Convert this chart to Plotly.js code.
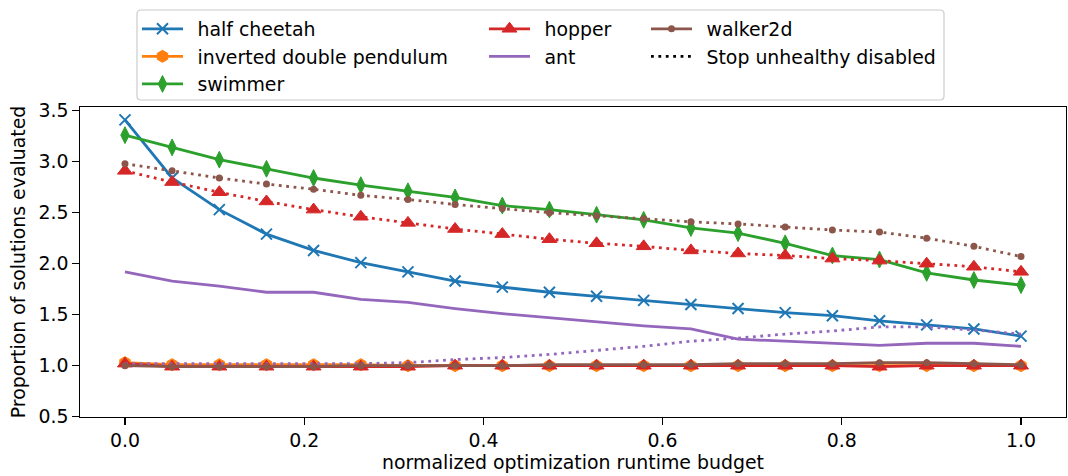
<!DOCTYPE html>
<html>
<head>
<meta charset="utf-8">
<script src="https://cdn.plot.ly/plotly-3.0.1.min.js"></script>
<style>html,body{margin:0;padding:0;background:#fff;}#chart{width:1068px;height:476px;}</style>
</head>
<body>
<div id="chart"></div>
<script>
// normalized runtime budget (20 evaluation points)
const budget = [0, 0.0526, 0.1053, 0.1579, 0.2105, 0.2632, 0.3158, 0.3684, 0.4211, 0.4737,
                0.5263, 0.5789, 0.6316, 0.6842, 0.7368, 0.7895, 0.8421, 0.8947, 0.9474, 1.0];

const halfCheetah = [3.41, 2.84, 2.53, 2.29, 2.13, 2.01, 1.92, 1.83, 1.77, 1.72,
                     1.68, 1.64, 1.60, 1.56, 1.52, 1.49, 1.44, 1.40, 1.36, 1.29];
const invDoublePendulum = [1.03, 1.01, 1.01, 1.01, 1.01, 1.01, 1.0, 1.0, 1.0, 1.0,
                           1.0, 1.0, 1.0, 1.0, 1.0, 1.0, 1.0, 1.0, 1.0, 1.0];
const swimmer = [3.26, 3.14, 3.02, 2.93, 2.84, 2.77, 2.71, 2.65, 2.57, 2.53,
                 2.48, 2.43, 2.35, 2.30, 2.20, 2.08, 2.04, 1.91, 1.84, 1.79];
const hopper = [1.02, 0.99, 0.99, 0.99, 0.99, 0.99, 0.99, 1.0, 1.0, 1.0,
                1.0, 1.0, 1.0, 1.0, 1.0, 1.0, 0.99, 1.0, 1.0, 1.0];
const hopperNoStop = [2.91, 2.80, 2.70, 2.61, 2.53, 2.46, 2.40, 2.34, 2.29, 2.24,
                      2.20, 2.17, 2.13, 2.10, 2.08, 2.05, 2.03, 2.00, 1.97, 1.92];
const ant = [1.92, 1.83, 1.78, 1.72, 1.72, 1.65, 1.62, 1.56, 1.51, 1.47,
             1.43, 1.39, 1.36, 1.26, 1.24, 1.22, 1.20, 1.22, 1.22, 1.19];
const antNoStop = [1.02, 1.02, 1.02, 1.02, 1.02, 1.02, 1.03, 1.06, 1.08, 1.11,
                   1.15, 1.19, 1.24, 1.27, 1.31, 1.34, 1.38, 1.38, 1.35, 1.31];
const walker2d = [1.0, 0.99, 0.99, 0.99, 0.99, 1.0, 1.0, 1.0, 1.0, 1.01,
                  1.01, 1.01, 1.01, 1.02, 1.02, 1.02, 1.03, 1.03, 1.02, 1.01];
const walker2dNoStop = [2.98, 2.91, 2.84, 2.78, 2.73, 2.67, 2.63, 2.58, 2.54, 2.50,
                        2.47, 2.44, 2.41, 2.39, 2.36, 2.33, 2.31, 2.25, 2.17, 2.07];

const C = {blue:'#1f77b4', orange:'#ff7f0e', green:'#2ca02c', red:'#d62728', purple:'#9467bd', brown:'#8c564b'};
const LW = 2.8;
const DOT = '2.8px,4.6px';
const GAP = '\u2002'; // extra gap between legend symbol and label

function tr(name, y, color, marker, opts) {
  const t = {
    type:'scatter', mode: marker ? 'lines+markers' : 'lines',
    x: budget, y: y, name: GAP + name,
    line:{color: color, width: LW},
    hoverinfo:'skip'
  };
  if (marker) t.marker = marker;
  return Object.assign(t, opts || {});
}

const data = [
  tr('half cheetah', halfCheetah, C.blue,
     {symbol:'x-thin', size:11, color:C.blue, line:{color:C.blue, width:2}}, {legend:'legend', legendrank:1}),
  tr('inverted double pendulum', invDoublePendulum, C.orange,
     {symbol:'hexagon', size:12, color:C.orange, line:{color:C.orange, width:1}}, {legend:'legend', legendrank:2}),
  tr('swimmer', swimmer, C.green,
     {symbol:'diamond-tall', size:12, color:C.green, line:{color:C.green, width:1}}, {legend:'legend', legendrank:3}),
  tr('hopper', hopper, C.red,
     {symbol:'triangle-up', size:13, color:C.red, line:{color:C.red, width:1}}, {legend:'legend2', legendrank:1}),
  tr('hopper (no stop)', hopperNoStop, C.red,
     {symbol:'triangle-up', size:13, color:C.red, line:{color:C.red, width:1}}, {showlegend:false, line:{color:C.red, width:LW, dash:DOT}}),
  tr('ant', ant, C.purple, null, {legend:'legend2', legendrank:2}),
  tr('ant (no stop)', antNoStop, C.purple, null, {showlegend:false, line:{color:C.purple, width:LW, dash:DOT}}),
  tr('walker2d', walker2d, C.brown,
     {symbol:'circle', size:7, color:C.brown}, {legend:'legend3', legendrank:1}),
  tr('walker2d (no stop)', walker2dNoStop, C.brown,
     {symbol:'circle', size:7, color:C.brown}, {showlegend:false, line:{color:C.brown, width:LW, dash:DOT}}),
  {type:'scatter', mode:'lines', x:[null], y:[null], name:GAP + 'Stop unhealthy disabled',
   line:{color:'#000', width:LW, dash:DOT}, legend:'legend3', legendrank:2, hoverinfo:'skip'}
];

const FONT = {family:'DejaVu Sans', size:18.9, color:'#000'};
const W = 1068, H = 476, ML = 80, MR = 2, MT = 107, MB = 59;
const PW = W - ML - MR, PH = H - MT - MB;
const px = v => (v - ML) / PW;
const py = v => (H - MB - v) / PH;

function legendAt(xPix, yPix) {
  return {x: px(xPix), y: py(yPix), xanchor:'left', yanchor:'top', orientation:'v',
          bgcolor:'rgba(0,0,0,0)', borderwidth:0, font:FONT, itemwidth:41,
          itemclick:false, itemdoubleclick:false, tracegroupgap:0};
}

// rounded legend frame
const bx0 = px(137), bx1 = px(944), by0 = py(100), by1 = py(10);
const rx = 4 / PW, ry = 4 / PH;
const framePath = `M${bx0+rx},${by1} L${bx1-rx},${by1} Q${bx1},${by1} ${bx1},${by1-ry} L${bx1},${by0+ry} Q${bx1},${by0} ${bx1-rx},${by0} L${bx0+rx},${by0} Q${bx0},${by0} ${bx0},${by0+ry} L${bx0},${by1-ry} Q${bx0},${by1} ${bx0+rx},${by1} Z`;

const layout = {
  width: W, height: H,
  margin: {l:ML, r:MR, t:MT, b:MB, pad:0},
  paper_bgcolor:'#fff', plot_bgcolor:'#fff',
  font: FONT,
  showlegend: true,
  legend: legendAt(137, 10),
  legend2: legendAt(484, 10),
  legend3: legendAt(646, 10),
  shapes: [{type:'path', xref:'paper', yref:'paper', path: framePath,
            line:{color:'#cccccc', width:1.2}, fillcolor:'rgba(255,255,255,0.8)', layer:'below'}],
  xaxis: {
    range:[-0.0502, 1.0502], tickvals:[0,0.2,0.4,0.6,0.8,1.0], ticktext:['0.0','0.2','0.4','0.6','0.8','1.0'],
    showline:true, linecolor:'#000', linewidth:1.1, mirror:true,
    ticks:'outside', ticklen:6.5, tickwidth:1.1, tickcolor:'#000',
    showgrid:false, zeroline:false, tickfont:FONT,
    title:{text:'normalized optimization runtime budget', font:FONT, standoff:5}
  },
  yaxis: {
    range:[0.497, 3.536], tickvals:[0.5,1.0,1.5,2.0,2.5,3.0,3.5], ticktext:['0.5','1.0','1.5','2.0','2.5','3.0','3.5'],
    showline:true, linecolor:'#000', linewidth:1.1, mirror:true,
    ticks:'outside', ticklen:6.5, tickwidth:1.1, tickcolor:'#000',
    showgrid:false, zeroline:false, tickfont:FONT,
    title:{text:'Proportion of solutions evaluated', font:FONT, standoff:8}
  }
};

Plotly.newPlot('chart', data, layout, {staticPlot:true, displayModeBar:false});
</script>
</body>
</html>
